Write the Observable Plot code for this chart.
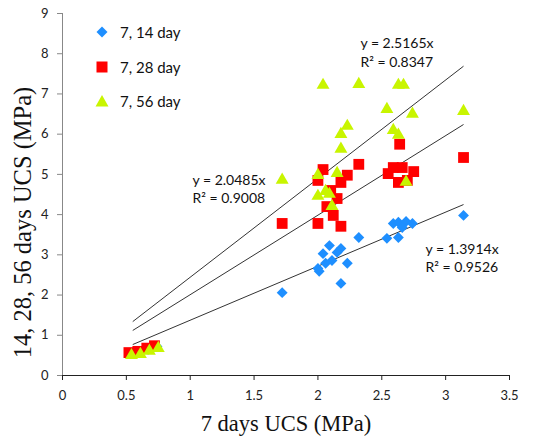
<!DOCTYPE html>
<html><head><meta charset="utf-8">
<script src="https://cdn.jsdelivr.net/npm/d3@7"></script>
<script src="https://cdn.jsdelivr.net/npm/@observablehq/plot@0.6"></script>
<style>
body{margin:0;background:#fff;}
#chart{position:relative;width:537px;height:436px;}
#chart svg{display:block;}
.leg{position:absolute;left:94px;font-family:Lato,sans-serif;font-size:15px;color:#111;display:flex;align-items:center;height:20px;}
.leg svg{width:16px;height:16px;margin-right:10px;}
</style></head><body><div id="chart"></div>
<script>
// ---- data ----
const seriesNames = ["7, 14 day", "7, 28 day", "7, 56 day"];
const seriesColors = ["#1e8fff", "#ff0000", "#c8f500"];

const x14 = [0.53,0.60,0.67,0.74,1.72,2.00,2.01,2.04,2.09,2.06,2.11,2.15,2.18,2.23,2.18,2.32,2.54,2.59,2.63,2.69,2.63,2.66,2.74,3.14];
const y14 = [0.55,0.57,0.65,0.72,2.06,2.66,2.59,3.03,3.23,2.79,2.86,3.06,3.16,2.79,2.29,3.43,3.41,3.78,3.81,3.83,3.43,3.68,3.78,3.98];

const x28 = [0.52,0.59,0.66,0.72,2.64,3.14,2.04,2.00,2.23,2.18,2.32,2.10,2.15,2.59,2.66,2.75,2.55,2.63,2.70,1.72,2.00,2.18,2.12,2.07];
const y28 = [0.57,0.60,0.68,0.74,5.75,5.42,5.12,4.85,4.98,4.80,5.25,4.60,4.40,5.17,5.17,5.07,5.02,4.80,4.85,3.78,3.78,3.71,3.98,4.20];

const x56 = [0.54,0.61,0.68,0.75,2.04,2.32,2.63,2.67,2.54,2.74,3.14,2.23,2.18,2.59,2.63,2.18,1.72,2.00,2.15,2.69,2.00,2.06,2.09,2.11];
const y56 = [0.50,0.53,0.61,0.68,7.22,7.24,7.22,7.22,6.62,6.50,6.57,6.20,6.00,6.10,5.98,5.63,4.86,4.98,5.03,4.81,4.46,4.58,4.51,4.21];

// trend lines (through origin), endpoints as drawn
const trendX = [0.55, 3.14];
const trendStartY = [0.77, 1.12, 1.34];
const trendEndY = [4.25, 6.24, 7.69];

const annText = ["y = 2.5165x", "R\u00b2 = 0.8347", "y = 2.0485x", "R\u00b2 = 0.9008", "y = 1.3914x", "R\u00b2 = 0.9526"];
const annX = [2.333, 2.333, 1.018, 1.018, 2.843, 2.843];
const annY = [8.26, 7.79, 4.85, 4.40, 3.13, 2.69];

const xTicks = [0, 0.5, 1, 1.5, 2, 2.5, 3, 3.5];
const xTickLabels = ["0", "0.5", "1", "1.5", "2", "2.5", "3", "3.5"];
const yTicks = [0, 1, 2, 3, 4, 5, 6, 7, 8, 9];
const yTickLabels = ["0", "1", "2", "3", "4", "5", "6", "7", "8", "9"];

const xTitle = "7 days UCS (MPa)";
const yTitle = "14, 28, 56 days UCS (MPa)";

// ---- build ----
const toPts = (xs, ys) => xs.map((x, i) => ({x, y: ys[i]}));
const p14 = toPts(x14, y14), p28 = toPts(x28, y28), p56 = toPts(x56, y56);
const trend = trendStartY.map((s, i) => ({x1: trendX[0], y1: s, x2: trendX[1], y2: trendEndY[i]}));
const ann = annText.map((t, i) => ({t, x: annX[i], y: annY[i]}));

const plot = Plot.plot({
  width: 537, height: 436,
  marginLeft: 62, marginRight: 28, marginTop: 13, marginBottom: 61,
  x: {domain: [0, 3.5]},
  y: {domain: [0, 9]},
  style: {fontFamily: "Lato, sans-serif", fontSize: "13px", background: "white", overflow: "visible"},
  marks: [
    Plot.axisX({ticks: xTicks, tickFormat: d => xTickLabels[xTicks.indexOf(d)], tickSize: 5, tickPadding: 10, label: null, stroke: "#222", fill: "#222"}),
    Plot.axisY({ticks: yTicks, tickFormat: d => yTickLabels[yTicks.indexOf(d)], tickSize: 5, tickPadding: 9, label: null, stroke: "#888", fill: "#222"}),
    Plot.ruleX([0], {stroke: "#888"}),
    Plot.ruleY([0], {stroke: "#222"}),
    Plot.link(trend, {x1: "x1", y1: "y1", x2: "x2", y2: "y2", stroke: "#333", strokeWidth: 1}),
    Plot.dot(p14, {x: "x", y: "y", symbol: "diamond2", r: 4.9, fill: seriesColors[0], stroke: "none"}),
    Plot.dot(p28, {x: "x", y: "y", symbol: "square", r: 6.1, fill: seriesColors[1], stroke: "none"}),
    Plot.dot(p56, {x: "x", y: "y", symbol: "triangle", r: 4.8, fill: seriesColors[2], stroke: "none"}),
    Plot.text(ann, {x: "x", y: "y", text: "t", textAnchor: "start", fontSize: 14, fill: "#111"}),
    Plot.text([xTitle], {frameAnchor: "bottom", textAnchor: "middle", lineAnchor: "middle", dy: 48, fontFamily: "'Liberation Serif', serif", fontSize: 22.5, fill: "#111"}),
    Plot.text([yTitle], {frameAnchor: "left", textAnchor: "middle", lineAnchor: "middle", rotate: -90, dx: -39, dy: 28, fontFamily: "'Liberation Serif', serif", fontSize: 24.5, fill: "#111"})
  ]
});
const chart = document.getElementById("chart");
chart.appendChild(plot);

// legend overlay
const legTops = [22, 57, 91];
const shapes = [
  c => `<svg viewBox="-8 -8 16 16"><path d="M0,-5.5L5.5,0L0,5.5L-5.5,0Z" fill="${c}"/></svg>`,
  c => `<svg viewBox="-8 -8 16 16"><rect x="-5.5" y="-5.5" width="11" height="11" fill="${c}"/></svg>`,
  c => `<svg viewBox="-8 -8 16 16"><path d="M0,-6L6.5,5.5L-6.5,5.5Z" fill="${c}"/></svg>`
];
seriesNames.forEach((n, i) => {
  const d = document.createElement("div");
  d.className = "leg";
  d.style.top = legTops[i] + "px";
  d.innerHTML = shapes[i](seriesColors[i]) + `<span>${n}</span>`;
  chart.appendChild(d);
});
</script></body></html>
